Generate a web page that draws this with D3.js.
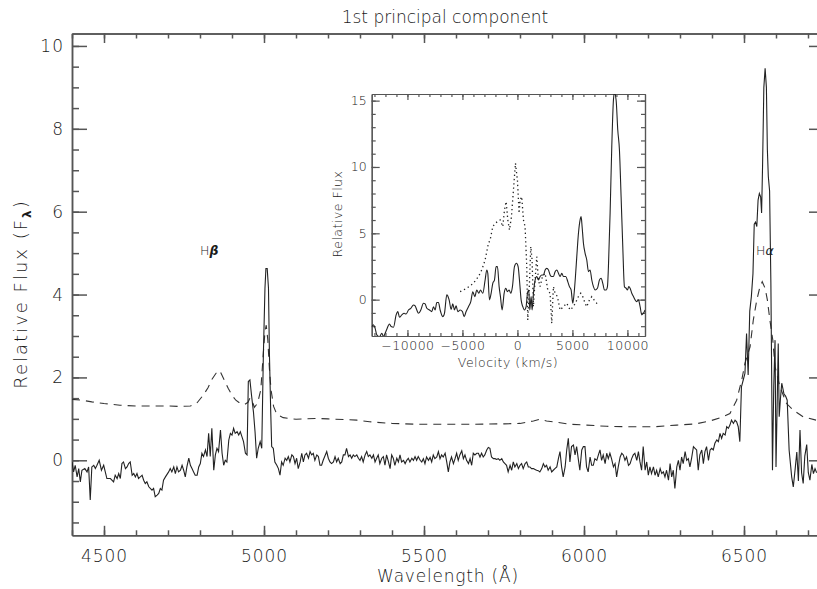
<!DOCTYPE html>
<html><head><meta charset="utf-8">
<script src="https://cdn.jsdelivr.net/npm/d3@7"></script>
<style>
body{margin:0;background:#fff}
svg text{font-family:"DejaVu Sans",sans-serif;fill:#1a1a1a;font-weight:200}
.axis path,.axis line{stroke:#555;stroke-width:1.5}
.iaxis path,.iaxis line{stroke:#555;stroke-width:1.2}
</style>
</head><body><svg id="c" width="817" height="589"></svg>
<script>
// ---------- data ----------
const specWave = [4400,4405,4410,4416,4421,4426,4431,4440,4447,4452,4457,4462,4468,4473,4478,4485,4492,4499,4504,4509,4520,4530,4535,4541,4546,4551,4556,4561,4567,4572,4577,4582,4588,4593,4598,4603,4608,4619,4624,4629,4634,4640,4650,4655,4660,4666,4671,4676,4681,4686,4692,4702,4707,4712,4718,4723,4728,4733,4739,4744,4749,4754,4759,4765,4770,4775,4780,4785,4791,4796,4801,4806,4811,4817,4822,4827,4832,4837,4843,4848,4853,4858,4864,4869,4874,4879,4884,4890,4895,4900,4905,4910,4916,4921,4926,4931,4936,4942,4947,4951,4956,4961,4967,4972,4977,4982,4988,4993,4998,5003,5006,5010,5014,5017,5021,5024,5029,5034,5040,5045,5050,5055,5060,5066,5071,5076,5081,5087,5092,5097,5102,5107,5113,5118,5123,5128,5133,5139,5144,5149,5154,5159,5165,5170,5175,5180,5185,5196,5201,5206,5211,5217,5222,5227,5232,5238,5243,5248,5253,5258,5264,5269,5274,5279,5284,5290,5295,5300,5305,5310,5316,5321,5326,5331,5337,5342,5347,5352,5357,5362,5368,5373,5378,5383,5389,5394,5399,5404,5409,5415,5420,5425,5430,5436,5441,5446,5451,5456,5462,5467,5472,5477,5482,5488,5493,5498,5503,5508,5514,5519,5524,5529,5534,5540,5545,5550,5555,5560,5566,5571,5576,5581,5586,5592,5597,5602,5607,5612,5618,5623,5628,5633,5639,5644,5649,5654,5659,5665,5670,5675,5680,5685,5690,5696,5701,5706,5711,5717,5722,5727,5732,5737,5743,5748,5753,5758,5763,5769,5774,5779,5784,5790,5795,5800,5805,5810,5816,5821,5826,5831,5836,5842,5847,5852,5857,5862,5868,5873,5878,5883,5888,5894,5899,5904,5909,5915,5920,5925,5930,5935,5941,5946,5951,5956,5961,5967,5972,5977,5982,5987,5993,5998,6003,6008,6013,6019,6024,6029,6034,6040,6045,6050,6055,6060,6066,6071,6076,6081,6086,6092,6097,6102,6107,6113,6118,6123,6128,6133,6139,6144,6149,6154,6159,6165,6170,6175,6180,6185,6191,6196,6201,6206,6211,6217,6222,6227,6232,6238,6243,6248,6253,6258,6264,6269,6274,6279,6284,6290,6295,6300,6305,6310,6316,6321,6326,6331,6336,6342,6347,6352,6357,6362,6368,6373,6378,6383,6389,6394,6399,6404,6409,6415,6420,6425,6430,6435,6441,6446,6451,6456,6461,6467,6472,6477,6482,6487,6492,6498,6503,6508,6513,6518,6523,6528,6532,6536,6540,6544,6548,6552,6555,6558,6562,6566,6570,6573,6576,6580,6584,6589,6593,6597,6600,6604,6607,6610,6614,6618,6625,6630,6635,6641,6649,6654,6660,6665,6670,6675,6680,6685,6690,6696,6701,6706,6712,6717,6722,6727];
const specFlux = [-0.04,-0.28,-0.12,-0.40,-0.20,-0.52,-0.24,-0.20,-0.28,-0.16,-0.96,-0.16,-0.12,-0.20,-0.12,0.00,-0.24,-0.12,-0.28,-0.44,-0.44,-0.52,-0.36,-0.44,-0.32,-0.44,-0.08,-0.04,-0.20,-0.16,-0.08,-0.04,-0.36,-0.32,-0.40,-0.32,-0.44,-0.36,-0.48,-0.56,-0.52,-0.64,-0.72,-0.68,-0.88,-0.84,-0.80,-0.68,-0.72,-0.48,-0.40,-0.28,-0.20,-0.28,-0.16,-0.32,-0.16,-0.28,-0.24,-0.12,-0.24,-0.40,-0.16,0.05,-0.12,-0.20,-0.28,-0.36,-0.36,-0.16,-0.08,0.17,0.09,0.25,0.09,0.65,0.09,0.77,-0.24,0.13,0.29,0.21,0.73,0.17,-0.12,0.00,-0.04,0.49,0.65,0.61,0.77,0.65,0.69,0.61,0.69,0.57,0.45,0.17,0.13,1.90,1.94,1.57,1.17,0.69,0.05,0.29,0.45,0.29,2.54,4.15,4.63,4.63,4.15,2.54,1.17,0.33,0.29,-0.04,-0.12,-0.20,-0.36,-0.04,-0.12,0.05,0.00,0.09,-0.04,0.13,0.09,-0.08,0.05,-0.20,-0.04,0.17,-0.04,0.13,0.17,0.05,0.21,0.13,0.17,0.00,0.13,0.09,-0.12,-0.12,0.00,0.21,0.05,-0.04,-0.08,-0.04,0.09,-0.04,0.05,-0.08,-0.04,0.13,0.13,0.29,0.09,0.13,0.05,0.13,0.09,0.13,0.05,0.00,0.09,-0.04,0.13,0.21,0.09,0.13,0.05,0.13,-0.04,0.05,0.13,-0.08,0.05,0.09,-0.12,0.13,-0.04,-0.20,0.13,0.05,-0.12,0.05,-0.04,0.13,-0.04,0.00,-0.08,0.00,0.05,-0.04,0.05,0.00,0.09,0.00,0.09,0.00,-0.04,0.04,-0.08,0.08,0.00,0.07,-0.04,0.13,0.04,0.08,0.21,0.04,0.13,0.08,0.17,-0.04,-0.28,-0.04,0.08,-0.08,0.04,0.17,0.00,0.13,0.23,0.04,0.13,0.00,-0.08,0.04,-0.12,0.17,0.13,0.17,0.17,0.08,0.17,0.08,0.13,0.25,0.31,0.29,0.08,0.04,0.04,0.02,0.04,0.00,0.04,-0.04,-0.08,-0.12,-0.28,-0.12,-0.24,-0.04,-0.16,-0.08,-0.20,-0.12,-0.08,-0.20,-0.08,-0.04,-0.16,-0.16,-0.20,-0.20,-0.22,-0.24,-0.25,-0.28,-0.20,-0.08,-0.16,-0.12,-0.24,-0.16,-0.28,-0.24,-0.20,-0.16,0.04,0.21,-0.16,-0.40,-0.16,0.25,0.53,-0.04,0.33,0.37,0.13,0.33,0.04,-0.24,0.25,0.33,0.33,-0.16,-0.28,0.08,-0.12,-0.12,0.04,0.00,0.13,0.25,0.00,0.13,-0.08,0.17,0.04,0.17,0.04,-0.16,-0.08,-0.40,-0.16,0.08,0.17,0.13,0.00,0.08,-0.12,-0.08,0.04,0.13,0.17,0.00,0.21,-0.04,-0.24,0.33,-0.24,-0.04,-0.36,-0.16,-0.32,-0.16,-0.36,-0.24,-0.40,-0.20,-0.32,-0.28,-0.40,-0.24,-0.48,-0.08,-0.40,-0.24,-0.68,-0.16,0.00,-0.24,0.08,-0.08,0.21,0.00,0.04,-0.16,0.04,0.33,0.29,0.25,-0.24,0.13,0.25,-0.08,0.21,0.33,0.00,0.25,0.29,0.25,0.41,0.49,0.45,0.65,0.53,0.65,0.61,0.81,0.77,0.85,0.97,0.89,0.97,0.93,0.81,0.45,1.77,1.95,2.10,3.06,2.06,3.60,3.95,4.50,5.70,5.75,5.64,6.28,6.44,6.36,5.97,7.10,9.00,9.46,9.00,7.50,6.85,6.50,4.27,-0.24,1.80,2.90,-0.16,1.50,2.82,1.05,1.50,1.86,1.60,1.55,1.45,0.25,-0.40,-0.64,-0.20,0.20,-0.50,0.73,-0.30,-0.56,0.10,0.38,-0.30,-0.48,-0.10,-0.32,-0.20,-0.30];

const meanWave = [4400,4430,4462,4500,4550,4600,4650,4700,4740,4770,4790,4810,4825,4836,4850,4862,4875,4888,4900,4912,4926,4940,4950,4956,4962,4970,4980,4990,4998,5003,5007,5012,5017,5022,5030,5040,5060,5100,5160,5200,5290,5330,5400,5480,5550,5650,5750,5800,5842,5862,5883,5904,5956,6008,6071,6150,6220,6290,6350,6394,6435,6456,6477,6493,6503,6519,6529,6540,6550,6557,6566,6573,6581,6590,6597,6612,6633,6654,6685,6725];
const meanFlux = [1.47,1.45,1.41,1.37,1.33,1.31,1.31,1.31,1.30,1.31,1.38,1.57,1.75,1.94,2.10,2.16,1.95,1.74,1.57,1.45,1.37,1.35,1.40,1.50,1.45,1.28,1.38,1.70,2.60,3.10,3.26,2.90,2.20,1.70,1.30,1.11,1.03,0.99,1.01,1.00,0.97,0.93,0.89,0.87,0.87,0.87,0.88,0.89,0.95,0.99,0.95,0.93,0.87,0.85,0.82,0.81,0.81,0.85,0.88,0.95,1.05,1.13,1.45,1.94,2.34,2.74,3.38,3.87,4.19,4.31,4.15,3.87,3.38,2.90,2.26,1.78,1.37,1.21,1.05,0.97];

const velSolid = [-13240,-13088,-12937,-12785,-12543,-12330,-12179,-12027,-11876,-11634,-11482,-11270,-11027,-10876,-10724,-10512,-10300,-10118,-9906,-9694,-9452,-9300,-9149,-8997,-8785,-8543,-8391,-8240,-7997,-7785,-7634,-7482,-7331,-7179,-7027,-6785,-6634,-6422,-6210,-6028,-5876,-5725,-5573,-5422,-5210,-4997,-4846,-4664,-4452,-4240,-4058,-3876,-3694,-3512,-3361,-3149,-2937,-2785,-2694,-2543,-2391,-2240,-2088,-1937,-1816,-1664,-1543,-1391,-1209,-1058,-906,-755,-603,-452,-270,-88,64,185,337,488,640,791,912,1033,1124,1245,1336,1458,1609,1760,1912,2064,2215,2367,2518,2670,2821,2973,3124,3276,3427,3579,3730,3882,4033,4185,4397,4579,4730,4882,5033,5155,5276,5397,5549,5700,5791,5882,6003,6155,6306,6458,6609,6761,6912,7064,7276,7458,7609,7761,7912,8064,8185,8276,8427,8579,8730,8821,8973,9124,9276,9427,9579,9730,9882,10003,10124,10245,10397,10549,10700,10852,11003,11155,11306,11458,11609];
const fluxSolid = [-2.03,-1.90,-2.16,-2.66,-2.79,-2.53,-2.79,-2.53,-2.23,-1.83,-2.03,-2.08,-1.15,-0.90,-1.33,-1.15,-1.03,-1.08,-0.78,-0.65,-0.40,-0.47,-0.78,-1.03,-0.78,-0.27,-0.32,-0.65,-0.78,-0.90,-0.53,-0.78,-0.22,-0.22,-0.78,-1.28,-1.03,0.36,-0.02,-0.73,-0.32,-0.78,-0.47,-0.90,-0.78,-0.90,-1.28,-0.90,-0.53,-0.15,0.60,0.23,0.73,0.48,0.73,0.48,1.48,2.24,1.99,-0.02,0.48,1.23,1.48,2.49,2.49,0.98,0.23,-0.78,0.48,0.86,0.60,0.73,0.48,0.98,2.49,2.74,2.49,1.48,-0.02,-0.53,-0.78,-0.53,0.48,0.73,-0.78,0.23,-0.78,0.48,1.48,1.74,1.48,1.74,1.86,1.86,2.24,2.36,2.24,1.86,1.74,1.74,2.11,2.24,1.99,1.74,1.99,1.74,1.74,1.36,0.98,0.73,-0.27,0.48,1.74,3.24,5.00,6.01,6.26,5.50,4.25,3.49,2.99,2.11,2.24,1.48,0.98,0.73,0.86,1.48,1.61,1.23,0.73,0.73,0.98,2.49,6.51,11.53,15.05,15.60,15.05,12.79,11.28,7.76,4.00,0.98,0.86,0.73,0.98,0.86,0.48,0.23,-0.02,-0.15,-0.02,-0.53,-1.15,-1.03,-0.78];

const velDot = [-5210,-4603,-3997,-3543,-3240,-2937,-2634,-2482,-2240,-2027,-1816,-1573,-1331,-1179,-1027,-876,-724,-543,-361,-179,0,152,243,394,546,697,849,940,1061,1213,1334,1455,1606,1758,1909,2061,2273,2515,2758,2970,3121,3273,3424,3636,3879,4182,4485,4788,5091,5333,5546,5758,5940,6152,6303,6546,6758,6970,7212,7515];
const fluxDot = [0.60,0.86,1.23,1.74,2.24,2.99,4.25,4.50,5.50,5.76,5.88,6.01,5.50,6.76,7.39,6.01,5.25,6.26,8.27,10.28,9.02,6.51,7.51,7.76,6.01,5.50,2.49,-1.53,0.48,4.00,2.99,-0.53,1.48,3.24,1.48,0.98,1.74,1.99,0.73,0.48,-1.78,0.98,0.48,0.23,-0.78,-0.53,-0.27,-0.78,-0.53,-0.15,0.23,0.48,0.23,-0.27,-0.53,-0.02,0.23,-0.02,-0.27,-0.22];

const xTickLabels = [4500,5000,5500,6000,6500];
const yTickLabels = [0,2,4,6,8,10];
const ixTickLabels = [-10000,-5000,0,5000,10000];
const iyTickLabels = [0,5,10,15];

// ---------- layout ----------
const svg = d3.select("#c");
const L=72, R=824, T=33.5, B=535.3;
const x = d3.scaleLinear().domain([4400,6750]).range([L,R]);
const y = d3.scaleLinear().domain([-1.81,10.3]).range([B,T]);

svg.append("clipPath").attr("id","mclip").append("rect").attr("x",L).attr("y",T).attr("width",R-L).attr("height",B-T);

const fmtMinus = d => (d<0?"\u2212":"")+Math.abs(d);
const fmtInt = d3.format("d");

// main axes
const xMinor = d3.range(4400,6751,100);
const yMinor = d3.range(-1.5,10.3,0.5);
svg.append("g").attr("class","axis").attr("transform",`translate(0,${B})`)
  .call(d3.axisBottom(x).tickValues(xMinor).tickSize(-5).tickSizeOuter(0).tickFormat(""));
svg.append("g").attr("class","axis").attr("transform",`translate(0,${B})`)
  .call(d3.axisBottom(x).tickValues(xTickLabels).tickSize(-9.5).tickSizeOuter(0).tickPadding(15).tickFormat(fmtInt))
  .call(g=>g.selectAll("text").attr("font-size",17).attr("dy","0.71em").attr("letter-spacing",1));
svg.append("g").attr("class","axis").attr("transform",`translate(0,${T})`)
  .call(d3.axisTop(x).tickValues(xMinor).tickSize(-5).tickSizeOuter(0).tickFormat(""));
svg.append("g").attr("class","axis").attr("transform",`translate(0,${T})`)
  .call(d3.axisTop(x).tickValues(xTickLabels).tickSize(-9.5).tickSizeOuter(0).tickFormat(""));
svg.append("g").attr("class","axis").attr("transform",`translate(${L},0)`)
  .call(d3.axisLeft(y).tickValues(yMinor).tickSize(-7).tickSizeOuter(0).tickFormat(""));
svg.append("g").attr("class","axis").attr("transform",`translate(${L},0)`)
  .call(d3.axisLeft(y).tickValues(yTickLabels).tickSize(-15).tickSizeOuter(0).tickPadding(8).tickFormat(fmtInt))
  .call(g=>g.selectAll("text").attr("font-size",17).attr("letter-spacing",1));
svg.append("g").attr("class","axis").attr("transform",`translate(${R},0)`)
  .call(d3.axisRight(y).tickValues(yMinor).tickSize(-7).tickSizeOuter(0).tickFormat(""));
svg.append("g").attr("class","axis").attr("transform",`translate(${R},0)`)
  .call(d3.axisRight(y).tickValues(yTickLabels).tickSize(-15).tickSizeOuter(0).tickFormat(""));
svg.selectAll(".axis text").attr("fill","#1a1a1a").attr("font-family","DejaVu Sans").attr("font-weight",200);

// main lines
const gm = svg.append("g").attr("clip-path","url(#mclip)");
gm.append("path").attr("fill","none").attr("stroke","#333").attr("stroke-width",1.1)
  .attr("stroke-dasharray","8,6")
  .attr("d", d3.line().x((d,i)=>x(meanWave[i])).y(d=>y(d))(meanFlux));
gm.append("path").attr("fill","none").attr("stroke","#222").attr("stroke-width",1.1)
  .attr("d", d3.line().x((d,i)=>x(specWave[i])).y(d=>y(d))(specFlux));

// titles
svg.append("text").attr("x",445).attr("y",23).attr("text-anchor","middle").attr("font-size",17).text("1st principal component");
svg.append("text").attr("x",448).attr("y",582).attr("text-anchor","middle").attr("font-size",17).attr("letter-spacing",0.8).text("Wavelength (\u00c5)");
const yt = svg.append("text").attr("transform","translate(27,294) rotate(-90)").attr("text-anchor","middle").attr("font-size",18).attr("letter-spacing",2);
yt.append("tspan").text("Relative Flux (F");
yt.append("tspan").attr("font-size",12).attr("font-weight","bold").attr("dy",4).text("\u03bb");
yt.append("tspan").attr("dy",-4).text(")");

const hb = svg.append("text").attr("x",200).attr("y",255).attr("font-size",12.5);
hb.append("tspan").text("H");
hb.append("tspan").attr("font-style","italic").attr("font-weight","bold").text("\u03b2");
const ha = svg.append("text").attr("x",756).attr("y",255).attr("font-size",12.5);
ha.append("tspan").text("H");
ha.append("tspan").attr("font-style","italic").text("\u03b1");

// ---------- inset ----------
const iL=371.7, iR=645, iT=94, iB=336;
const xi = d3.scaleLinear().domain([-13250,11600]).range([iL,iR]);
const yi = d3.scaleLinear().domain([-2.74,15.5]).range([iB,iT]);
svg.append("rect").attr("x",iL).attr("y",iT).attr("width",iR-iL).attr("height",iB-iT).attr("fill","#fff");
svg.append("clipPath").attr("id","iclip").append("rect").attr("x",iL).attr("y",iT).attr("width",iR-iL).attr("height",iB-iT);

const ixMinor = d3.range(-13000,11601,1000);
const iyMinor = d3.range(-2,15.5,1);
svg.append("g").attr("class","iaxis").attr("transform",`translate(0,${iB})`)
  .call(d3.axisBottom(xi).tickValues(ixMinor).tickSize(-3).tickSizeOuter(0).tickFormat(""));
svg.append("g").attr("class","iaxis").attr("transform",`translate(0,${iB})`)
  .call(d3.axisBottom(xi).tickValues(ixTickLabels).tickSize(-6).tickSizeOuter(0).tickPadding(5).tickFormat(fmtMinus))
  .call(g=>g.selectAll("text").attr("font-size",12.5).attr("dy","0.71em").attr("letter-spacing",0.5));
svg.append("g").attr("class","iaxis").attr("transform",`translate(0,${iT})`)
  .call(d3.axisTop(xi).tickValues(ixMinor).tickSize(-3).tickSizeOuter(0).tickFormat(""));
svg.append("g").attr("class","iaxis").attr("transform",`translate(0,${iT})`)
  .call(d3.axisTop(xi).tickValues(ixTickLabels).tickSize(-6).tickSizeOuter(0).tickFormat(""));
svg.append("g").attr("class","iaxis").attr("transform",`translate(${iL},0)`)
  .call(d3.axisLeft(yi).tickValues(iyMinor).tickSize(-4).tickSizeOuter(0).tickFormat(""));
svg.append("g").attr("class","iaxis").attr("transform",`translate(${iL},0)`)
  .call(d3.axisLeft(yi).tickValues(iyTickLabels).tickSize(-8).tickSizeOuter(0).tickPadding(5))
  .call(g=>g.selectAll("text").attr("font-size",12.5));
svg.append("g").attr("class","iaxis").attr("transform",`translate(${iR},0)`)
  .call(d3.axisRight(yi).tickValues(iyMinor).tickSize(-4).tickSizeOuter(0).tickFormat(""));
svg.append("g").attr("class","iaxis").attr("transform",`translate(${iR},0)`)
  .call(d3.axisRight(yi).tickValues(iyTickLabels).tickSize(-8).tickSizeOuter(0).tickFormat(""));
svg.selectAll(".iaxis text").attr("fill","#1a1a1a").attr("font-family","DejaVu Sans").attr("font-weight",200);

const gi = svg.append("g").attr("clip-path","url(#iclip)");
gi.append("path").attr("fill","none").attr("stroke","#222").attr("stroke-width",1.3)
  .attr("stroke-dasharray","1.3,3")
  .attr("d", d3.line().x((d,i)=>xi(velDot[i])).y(d=>yi(d))(fluxDot));
gi.append("path").attr("fill","none").attr("stroke","#222").attr("stroke-width",1.1)
  .attr("d", d3.line().curve(d3.curveMonotoneX).x((d,i)=>xi(velSolid[i])).y(d=>yi(d))(fluxSolid));

svg.append("text").attr("x",508).attr("y",367).attr("text-anchor","middle").attr("font-size",12.5).attr("letter-spacing",0.5).text("Velocity (km/s)");
svg.append("text").attr("transform","translate(342,214) rotate(-90)").attr("text-anchor","middle").attr("font-size",12.5).attr("letter-spacing",0.5).text("Relative Flux");
</script></body></html>
